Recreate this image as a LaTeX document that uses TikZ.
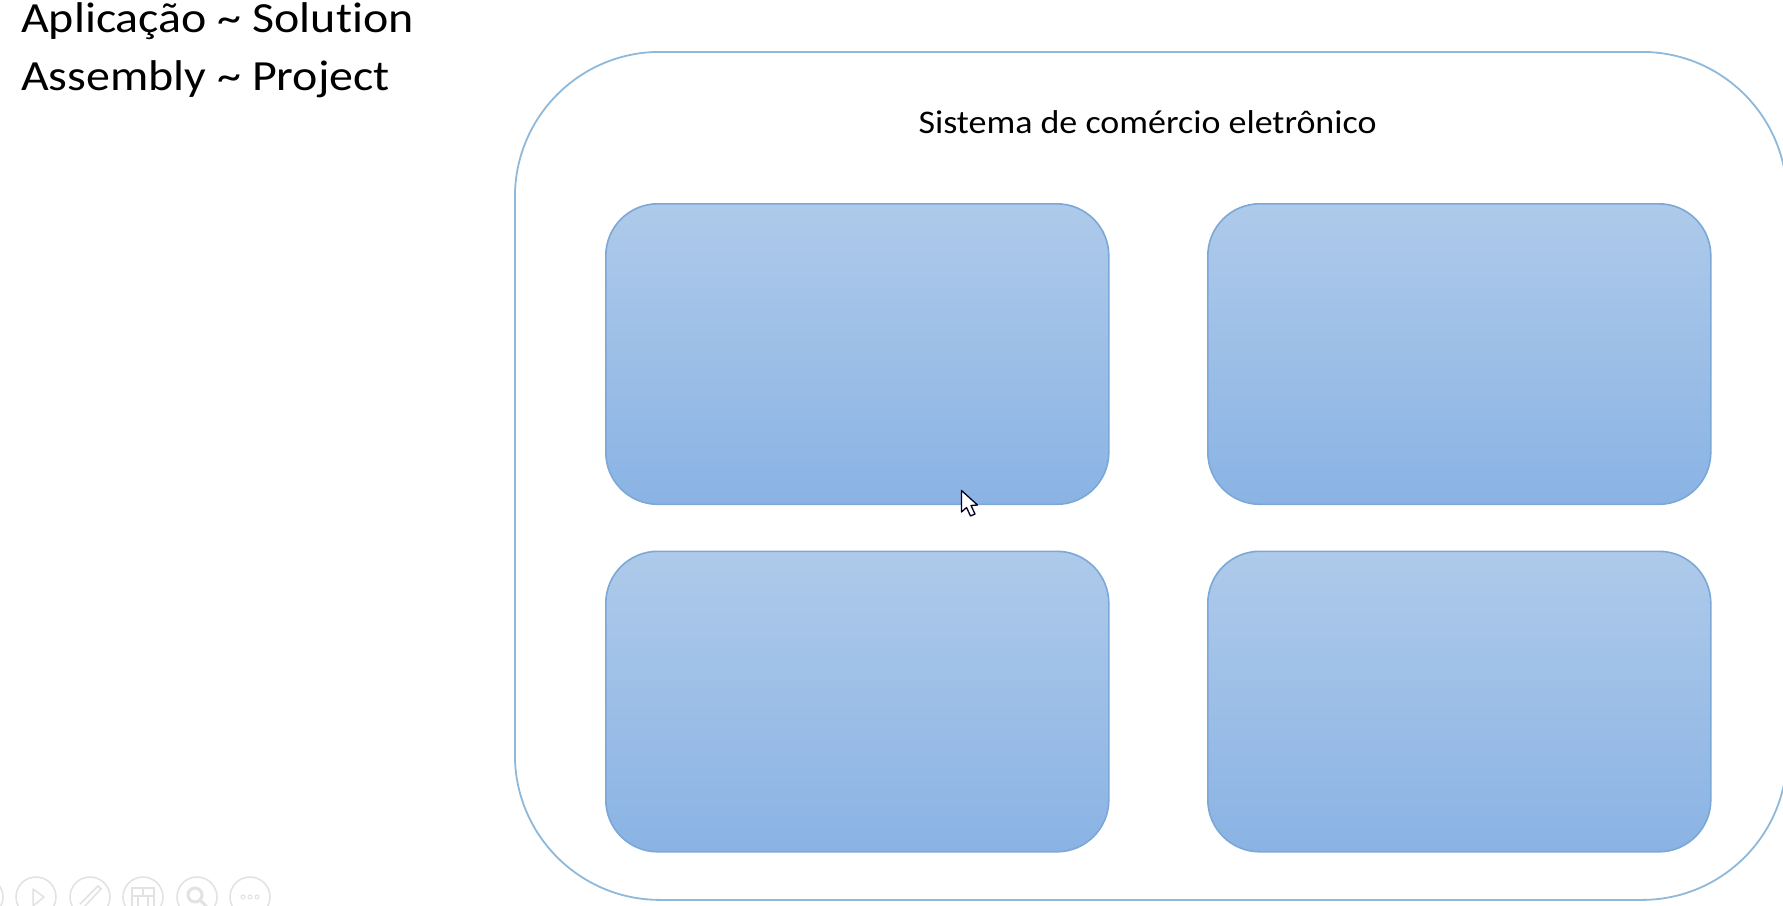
\documentclass[tikz,border=0pt]{standalone}
\usepackage{fontspec}
\setmainfont[Ligatures=NoCommon]{Carlito}
\newfontface\headface[Ligatures=NoCommon,FakeStretch=1.115]{Carlito}
\newfontface\titleface[Ligatures=NoCommon,FakeStretch=1.09]{Carlito}
\definecolor{outerline}{HTML}{8FB9DA}
\definecolor{boxline}{HTML}{7BA8D6}
\definecolor{boxtop}{HTML}{AECAEA}
\definecolor{boxbot}{HTML}{8AB3E4}
\definecolor{toolgray}{HTML}{E2E2E2}
\tikzset{
  outerbox/.style={draw=outerline,line width=1.8pt,fill=white,rounded corners=145pt,anchor=north west,minimum width=1272pt,minimum height=848pt,inner sep=0pt},
  innerbox/.style={draw=boxline,line width=1.6pt,top color=boxtop,bottom color=boxbot,rounded corners=52pt,anchor=north west,minimum width=503pt,minimum height=300.5pt,inner sep=0pt},
  headline/.style={anchor=base west,font=\headface\fontsize{43}{54}\selectfont,text=black,inner sep=0pt},
  titletext/.style={anchor=base,font=\titleface\fontsize{33}{39}\selectfont,text=black,inner sep=0pt},
  toolring/.style={draw=toolgray,line width=1.5pt,circle,minimum size=40pt,inner sep=0pt},
  toolmark/.style={draw=toolgray,line width=1.5pt},
}
\begin{document}
\begin{tikzpicture}[x=1pt,y=-1pt]
\useasboundingbox (0,0) rectangle (1783,905);
\clip (0,0) rectangle (1783,905);
\fill[white] (0,0) rectangle (1783,905);
\node[headline] (l1) at (21,32) {Aplicação \char`\~\ Solution};
\node[headline] (l2) at (21,90) {Assembly \char`\~\ Project};
\node[outerbox] (outer) at (514,51) {};
\node[titletext] (title) at (1147.5,133) {Sistema de comércio eletrônico};
\node[innerbox] (b1) at (605,203) {};
\node[innerbox] (b2) at (1207,203) {};
\node[innerbox] (b3) at (605,550.5) {};
\node[innerbox] (b4) at (1207,550.5) {};
% slide-show toolbar
\node[toolring] (t0) at (-17,897) {};
\node[toolring] (t1) at (36,897) {};
\node[toolring] (t2) at (90,897) {};
\node[toolring] (t3) at (143,897) {};
\node[toolring] (t4) at (197,897) {};
\node[toolring] (t5) at (250,897) {};
\draw[toolmark,line join=round] (33,889) -- (44,897) -- (33,906) -- cycle;
\draw[toolmark] (80,904) -- (98,886) -- (101,889) -- (84,907);
\draw[toolmark] (132,888) rectangle (154,908) (143,888) -- (143,896) (132,896) -- (154,896) (138,896) -- (138,908) (148,896) -- (148,908);
\draw[toolmark,line width=3pt] (195,895) circle (7pt) (200,900) -- (207,907);
\draw[toolmark,line width=1pt] (243,897) circle (2pt) (250,897) circle (2pt) (257,897) circle (2pt);
% mouse pointer
\fill[white,draw=black!85!blue,line width=1.3pt,line join=round] (961.5,490.5) -- (961.5,512) -- (966.5,507.5) -- (970.5,516) -- (975,514) -- (971,505.5) -- (977.5,505) -- cycle;
\end{tikzpicture}
\end{document}
